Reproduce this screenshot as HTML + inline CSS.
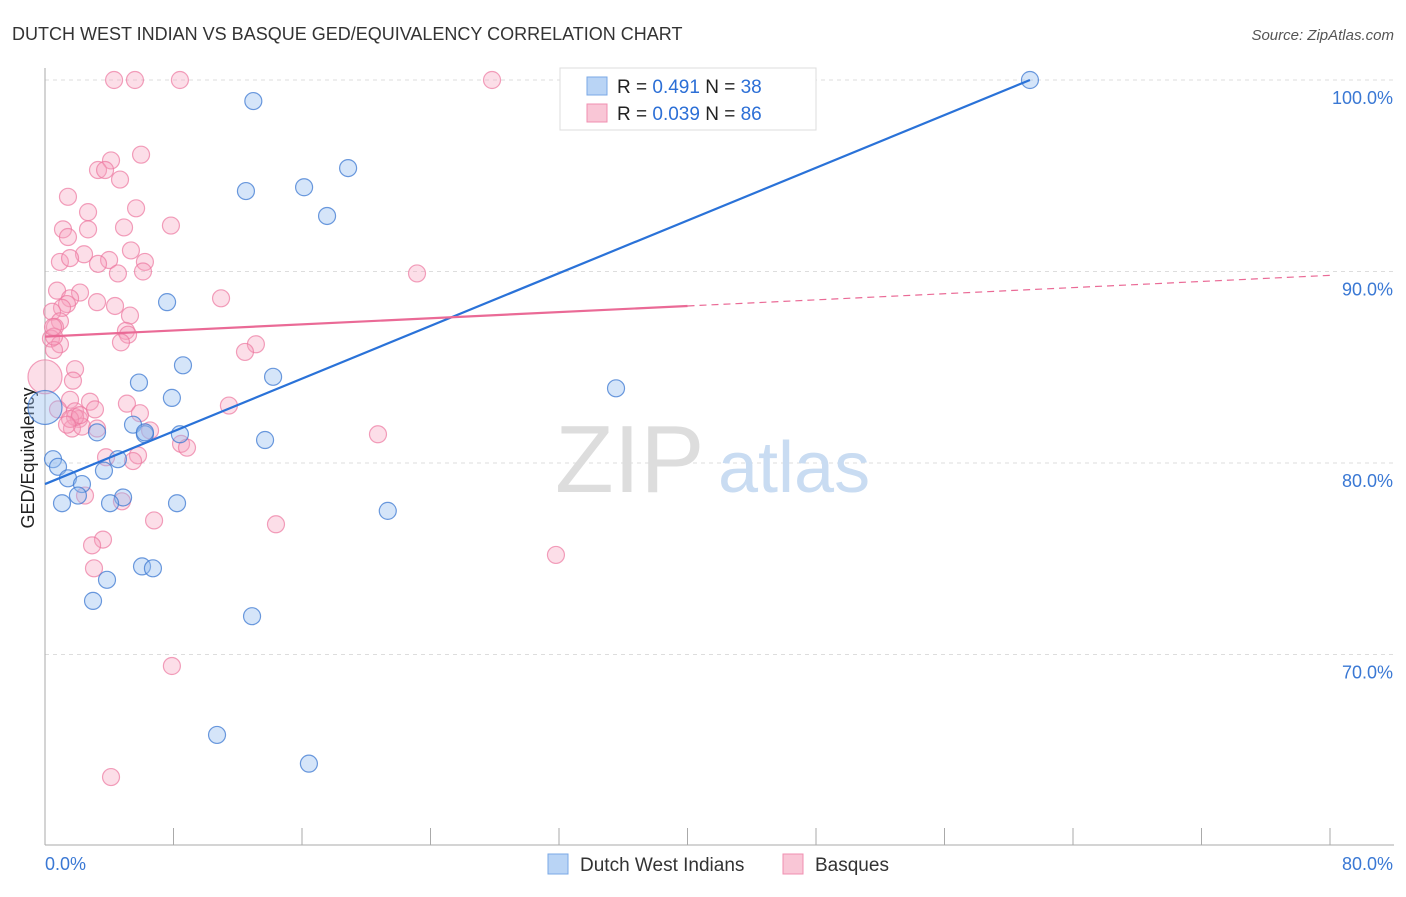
<!DOCTYPE html>
<html><head><meta charset="utf-8"><style>
body{margin:0;background:#fff;font-family:"Liberation Sans",sans-serif}
svg text{font-family:"Liberation Sans",sans-serif}
</style></head><body>
<svg id="chart" width="1406" height="892">
<text x="12" y="40" font-size="18" fill="#333">DUTCH WEST INDIAN VS BASQUE GED/EQUIVALENCY CORRELATION CHART</text>
<text x="1394" y="40" font-size="15" fill="#555" text-anchor="end" font-style="italic">Source: ZipAtlas.com</text>
<g id="grid"></g>
<line x1="45" y1="68" x2="45" y2="845" stroke="#aaa"/>
<line x1="45" y1="845" x2="1394" y2="845" stroke="#aaa"/>
<text x="555" y="492" font-size="96" fill="#ddd" font-family="Liberation Serif">ZIP</text>
<text x="718" y="492" font-size="72" fill="#c9dcf2">atlas</text>
<text transform="translate(34,458) rotate(-90)" font-size="18" fill="#222" text-anchor="middle">GED/Equivalency</text>
<g id="pts"></g>
<g id="lines"></g>
<g>
<rect x="560" y="68" width="256" height="62" fill="#fff" stroke="#ddd"/>
<rect x="587" y="77" width="20" height="18" fill="#b9d4f5" stroke="#7aa8e6"/>
<rect x="587" y="104" width="20" height="18" fill="#f9c6d6" stroke="#f08fb0"/>
<text x="617" y="93" font-size="19" fill="#222">R = <tspan fill="#2c6fd6">0.491</tspan>   N = <tspan fill="#2c6fd6">38</tspan></text>
<text x="617" y="120" font-size="19" fill="#222">R = <tspan fill="#2c6fd6">0.039</tspan>   N = <tspan fill="#2c6fd6">86</tspan></text>
</g>
<g>
<rect x="548" y="854" width="20" height="20" fill="#b9d4f5" stroke="#7aa8e6"/>
<text x="580" y="871" font-size="19" fill="#333">Dutch West Indians</text>
<rect x="783" y="854" width="20" height="20" fill="#f9c6d6" stroke="#f08fb0"/>
<text x="815" y="871" font-size="19" fill="#333">Basques</text>
</g>
</svg>
<script>
const yTicks=[100,90,80,70];
const xTickLabels=["0.0%","80.0%"];
const blueX=[12.97,18.87,12.51,16.13,17.56,7.60,8.59,14.20,5.85,7.90,35.55,0,5.48,3.24,6.22,0.50,4.54,0.81,3.67,1.43,2.30,2.05,4.86,4.05,1.06,8.22,21.34,6.04,6.72,3.86,2.99,12.89,10.71,16.43,61.32,6.22,8.40,13.70];
const blueY=[98.9,95.4,94.2,94.4,92.9,88.4,85.1,84.5,84.2,83.4,83.9,82.9,82.0,81.6,81.5,80.2,80.2,79.8,79.6,79.2,78.9,78.3,78.2,77.9,77.9,77.9,77.5,74.6,74.5,73.9,72.8,72.0,65.8,64.3,100,81.6,81.5,81.2];
const pinkX=[4.30,5.60,8.40,27.83,33.30,5.98,4.11,3.30,3.74,4.67,1.43,5.67,2.68,7.84,4.92,1.12,2.68,1.43,5.35,2.43,3.99,0.93,1.56,6.22,3.30,4.54,6.10,23.16,0.75,2.18,1.56,10.96,3.24,1.37,4.36,1.06,0.44,5.29,0.93,0.62,5.04,5.17,0.37,4.73,0.93,13.13,12.45,0.56,0,1.87,1.74,1.56,5.10,2.80,5.91,1.87,0.81,2.12,1.68,2.30,3.24,6.54,20.73,8.47,8.84,5.79,5.48,11.45,4.79,2.49,6.79,3.61,2.93,14.38,31.81,3.05,7.90,4.11,0.56,0.50,1.87,1.56,2.18,1.37,3.11,3.80];
const pinkY=[100,100,100,100,100,96.1,95.8,95.3,95.3,94.8,93.9,93.3,93.1,92.4,92.3,92.2,92.2,91.8,91.1,90.9,90.6,90.5,90.7,90.5,90.4,89.9,90.0,89.9,89.0,88.9,88.6,88.6,88.4,88.3,88.2,88.1,87.9,87.7,87.4,87.1,86.9,86.7,86.5,86.3,86.2,86.2,85.8,85.9,84.5,84.9,84.3,83.3,83.1,83.2,82.6,82.7,82.8,82.3,81.8,81.9,81.8,81.7,81.5,81.0,80.8,80.4,80.1,83.0,78.0,78.3,77.0,76.0,75.7,76.8,75.2,74.5,69.4,63.6,86.6,87.1,82.4,82.3,82.5,82.0,82.8,80.3];
const big={blue:[11],pink:[48]};
const X=v=>45+v/80*1285, Y=v=>80+(100-v)*19.15;
const NS="http://www.w3.org/2000/svg";
const grid=document.getElementById('grid'),svg=document.getElementById('chart');
yTicks.forEach(t=>{
 const l=document.createElementNS(NS,'line');
 l.setAttribute('x1',45);l.setAttribute('x2',1394);l.setAttribute('y1',Y(t));l.setAttribute('y2',Y(t));
 l.setAttribute('stroke','#ddd');l.setAttribute('stroke-dasharray','4,4');
 
 
 grid.appendChild(l);
 const tx=document.createElementNS(NS,'text');
 tx.setAttribute('x',1393);tx.setAttribute('y',Y(t)+24);tx.setAttribute('text-anchor','end');
 tx.setAttribute('font-size','18');tx.setAttribute('fill','#3a78d4');tx.textContent=t.toFixed(1)+'%';
 
 
 grid.appendChild(tx);
});
for(let i=0;i<=10;i++){
 const l=document.createElementNS(NS,'line');
 const x=X(i*8);
 l.setAttribute('x1',x);l.setAttribute('x2',x);l.setAttribute('y1',828);l.setAttribute('y2',845);l.setAttribute('stroke','#aaa');
 
 
 grid.appendChild(l);
}
xTickLabels.forEach((s,i)=>{
 const tx=document.createElementNS(NS,'text');
 tx.setAttribute('x',i?1393:45);tx.setAttribute('y',870);tx.setAttribute('text-anchor',i?'end':'start');
 tx.setAttribute('font-size','18');tx.setAttribute('fill','#3a78d4');tx.textContent=s;
 
 
 grid.appendChild(tx);
});
const pts=document.getElementById('pts');
function dots(xs,ys,fill,stroke,bigs,name){
 xs.forEach((v,i)=>{
  const c=document.createElementNS(NS,'circle');
  c.setAttribute('cx',X(v));c.setAttribute('cy',Y(ys[i]));c.setAttribute('r',bigs.includes(i)?17:8.5);
  c.setAttribute('fill',fill);c.setAttribute('stroke',stroke);c.setAttribute('stroke-width','1.2');
  
  
  pts.appendChild(c);
 });
}
dots(pinkX,pinkY,'rgba(246,160,190,0.35)','rgba(236,120,160,0.7)',big.pink,'basque-point');
dots(blueX,blueY,'rgba(150,190,240,0.4)','rgba(60,120,210,0.75)',big.blue,'dutch-point');
const lines=document.getElementById('lines');
function ln(x1,y1,x2,y2,col,w,dash,name){
 const l=document.createElementNS(NS,'line');
 l.setAttribute('x1',X(x1));l.setAttribute('y1',Y(y1));l.setAttribute('x2',X(x2));l.setAttribute('y2',Y(y2));
 l.setAttribute('stroke',col);l.setAttribute('stroke-width',w);if(dash)l.setAttribute('stroke-dasharray',dash);
 
 
 lines.appendChild(l);
}
ln(0,78.9,61.32,100,'#2a72d8',2.2,null,'dutch-trend-line');
ln(0,86.6,40,88.2,'#ea6a96',2.2,null,'basque-trend-line');
ln(40,88.2,80,89.8,'#ea6a96',1.2,'7,5','basque-trend-extension');
</script>
</body></html>
